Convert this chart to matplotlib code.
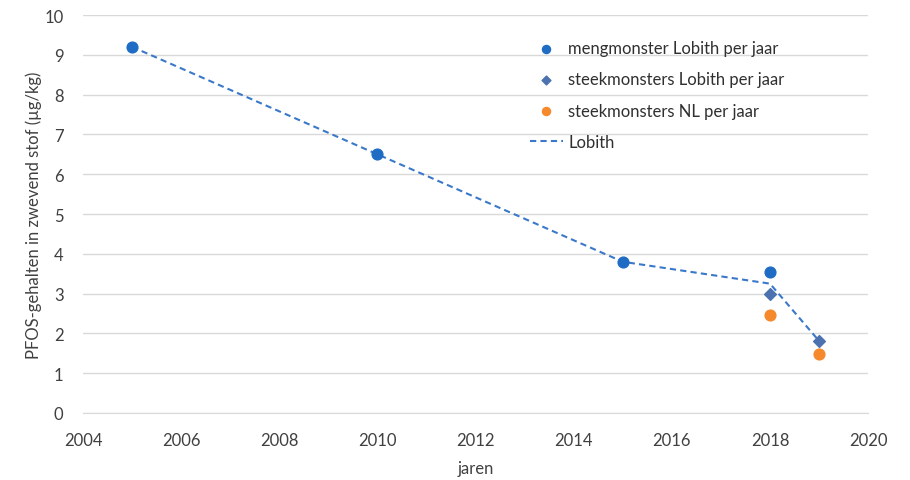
import matplotlib
matplotlib.use("Agg")
import matplotlib.pyplot as plt

plt.rcParams['font.family'] = ['Lato', 'DejaVu Sans']

meng_years = [2005, 2010, 2015, 2018]
meng_vals = [9.2, 6.5, 3.8, 3.54]
steek_lob_years = [2018, 2019]
steek_lob_vals = [2.99, 1.81]
steek_nl_years = [2018, 2019]
steek_nl_vals = [2.45, 1.48]
lobith_years = [2005, 2010, 2015, 2018, 2019]
lobith_vals = [9.2, 6.5, 3.8, 3.25, 1.81]

xticks = list(range(2004, 2021, 2))
yticks = list(range(0, 11))

fig = plt.figure(figsize=(9.1, 4.81), dpi=100)
ax = fig.add_axes([0.0912, 0.1393, 0.954 - 0.0912, 0.9667 - 0.1393])

ax.plot(lobith_years, lobith_vals, linestyle=(0, (3, 2)), color='#3A78C9', lw=1.5,
        label='Lobith', zorder=2)
ax.scatter(meng_years, meng_vals, s=60, color='#1F6CC4', label='mengmonster Lobith per jaar', zorder=3)
ax.scatter(steek_lob_years, steek_lob_vals, s=36, marker='D', color='#4C72B0',
           label='steekmonsters Lobith per jaar', zorder=4)
ax.scatter(steek_nl_years, steek_nl_vals, s=60, color='#F5892C',
           label='steekmonsters NL per jaar', zorder=3)

ax.set_xlim(2004, 2020)
ax.set_ylim(0, 10)
ax.set_xticks(xticks)
ax.set_yticks(yticks)
ax.grid(axis='y', color='#D9D9D9', lw=1)
ax.set_axisbelow(True)
for s in ['top', 'right', 'left']:
    ax.spines[s].set_visible(False)
ax.spines['bottom'].set_color('#D9D9D9')
ax.tick_params(axis='both', length=0, labelsize=12, colors='#404040')
ax.tick_params(axis='x', pad=14)
ax.tick_params(axis='y', pad=14)
ax.set_xlabel('jaren', fontsize=12, color='#404040', labelpad=8)
ax.set_ylabel('PFOS-gehalten in zwevend stof (µg/kg)', fontsize=12, color='#404040', labelpad=2)

h, l = ax.get_legend_handles_labels()
order = [1, 2, 3, 0]
leg = ax.legend([h[i] for i in order], [l[i] for i in order], loc='upper left',
                bbox_to_anchor=(0.55, 0.975), frameon=False, fontsize=12,
                labelspacing=0.92, handlelength=2.0, handletextpad=0.3,
                markerscale=0.75)
for t in leg.get_texts():
    t.set_color('#303030')

fig.savefig('out.png', dpi=100)
